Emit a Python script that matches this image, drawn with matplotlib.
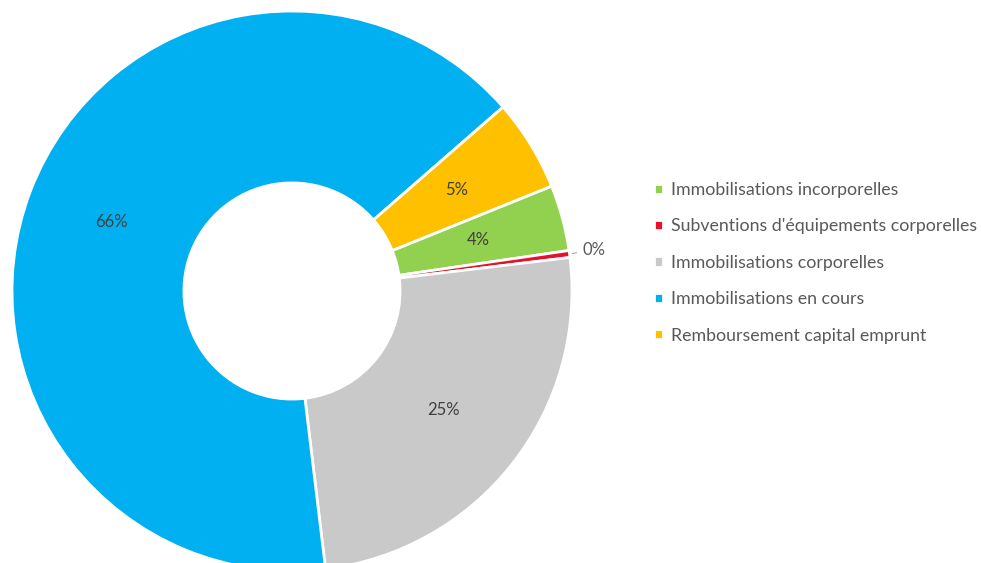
import numpy as np
import matplotlib
matplotlib.use('Agg')
from matplotlib import pyplot as plt

labels = ['Immobilisations incorporelles',
          "Subventions d'équipements corporelles",
          'Immobilisations corporelles',
          'Immobilisations en cours',
          'Remboursement capital emprunt']
values = [3.8, 0.4, 25.0, 65.5, 5.3]
colors = ['#92D050', '#E8102A', '#C9C9C9', '#00B0F0', '#FFC000']

plt.rcParams['font.family'] = ['Lato', 'DejaVu Sans']

fig = plt.figure(figsize=(9.81, 5.63), dpi=100)
# pie centre at about (292, 291) px, outer radius 280 px, top clipped at y=15 px
top = (291 - 15) / 280
ax = fig.add_axes([12/981, (563-571)/563, 560/981, (571-15)/563])
wedges, _ = ax.pie(values, colors=colors, startangle=22, counterclock=False,
                   radius=1.0, wedgeprops=dict(width=0.614, edgecolor='white', linewidth=2))
ax.set_xlim(-1, 1)
ax.set_ylim(-1, top)
ax.set_aspect('equal')
ax.axis('off')

total = sum(values)
for w, v in zip(wedges, values):
    ang = np.deg2rad((w.theta1 + w.theta2) / 2)
    pct = '%.0f%%' % (100 * v / total)
    if v / total < 0.01:
        x0, y0 = np.cos(ang) * 1.0, np.sin(ang) * 1.0
        ax.annotate(pct, xy=(x0, y0), xytext=(np.cos(ang) * 1.04 + 0.005, np.sin(ang) * 1.04 + 0.01),
                    ha='left', va='center', fontsize=12, color='#595959',
                    arrowprops=dict(arrowstyle='-', color='#A6A6A6', lw=0.8),
                    annotation_clip=False)
    else:
        ax.text(np.cos(ang) * 0.69, np.sin(ang) * 0.69, pct, ha='center', va='center',
                fontsize=12, color='#404040')

leg = fig.legend(wedges, labels, loc='upper left', bbox_to_anchor=(645/981, 1 - 173/563),
                 frameon=False, fontsize=12.8, handlelength=0.5, handleheight=0.5,
                 handletextpad=0.45, labelspacing=1.15, borderpad=0)
for t in leg.get_texts():
    t.set_color('#595959')

plt.savefig('out.png', dpi=100)
